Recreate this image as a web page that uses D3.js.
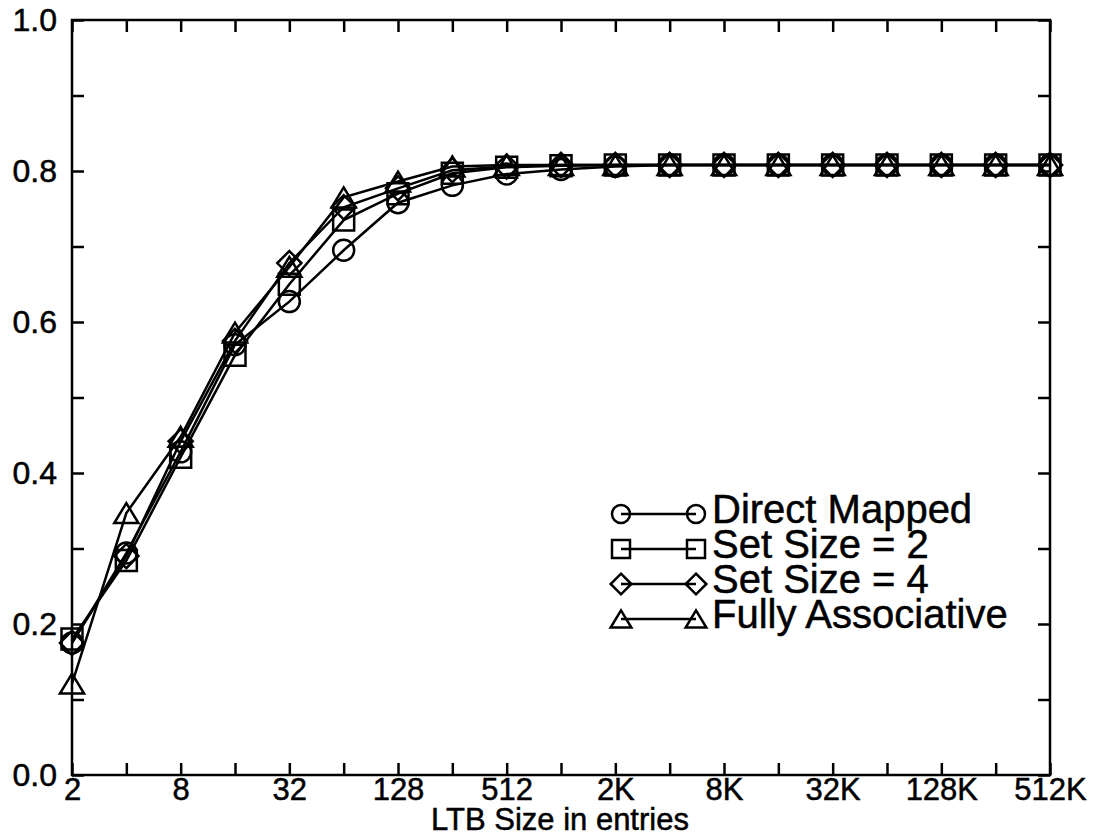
<!DOCTYPE html>
<html>
<head>
<meta charset="utf-8">
<style>
    body { margin: 0; background: #fff; }
    svg { display: block; }
    text { font-family: "Liberation Sans", Arial, Helvetica, sans-serif; fill: #000; stroke: #000; stroke-width: 0.5px; }
    .mark { fill: none; stroke: #000; stroke-width: 2.5px; }
    .series { fill: none; stroke: #000; stroke-width: 2.5px; }
</style>
</head>
<body>
<svg></svg>
<script src="https://d3js.org/d3.v7.min.js"></script>
<script>
    var vWidth = 1107;
    var vHeight = 837;

    // LTB sizes (entries), powers of two from 2 to 512K
    var sizes = [2, 4, 8, 16, 32, 64, 128, 256, 512, 1024, 2048, 4096, 8192, 16384,
                 32768, 65536, 131072, 262144, 524288];
    var sizeLabels = ['2', '4', '8', '16', '32', '64', '128', '256', '512', '1K', '2K', '4K',
                      '8K', '16K', '32K', '64K', '128K', '256K', '512K'];

    var directMapped = [0.175, 0.294, 0.428, 0.570, 0.627, 0.695, 0.758, 0.781, 0.796, 0.802,
                        0.806, 0.808, 0.808, 0.808, 0.808, 0.808, 0.808, 0.808, 0.808];
    var setSize2 = [0.180, 0.284, 0.421, 0.556, 0.650, 0.735, 0.770, 0.797, 0.805, 0.807,
                    0.808, 0.808, 0.808, 0.808, 0.808, 0.808, 0.808, 0.808, 0.808];
    var setSize4 = [0.175, 0.290, 0.442, 0.575, 0.678, 0.752, 0.777, 0.801, 0.806, 0.808,
                    0.808, 0.808, 0.808, 0.808, 0.808, 0.808, 0.808, 0.808, 0.808];
    var fullyAssoc = [0.121, 0.347, 0.448, 0.586, 0.673, 0.765, 0.786, 0.806, 0.808, 0.808,
                      0.808, 0.808, 0.808, 0.808, 0.808, 0.808, 0.808, 0.808, 0.808];

    var yTicks = [0, 0.1, 0.2, 0.3, 0.4, 0.5, 0.6, 0.7, 0.8, 0.9, 1.0];
    var yLabels = ['0.0', '', '0.2', '', '0.4', '', '0.6', '', '0.8', '', '1.0'];

    var seriesNames = ['Direct Mapped', 'Set Size = 2', 'Set Size = 4', 'Fully Associative'];
    var seriesValues = [directMapped, setSize2, setSize4, fullyAssoc];
    var seriesMarks = ['circle', 'square', 'diamond', 'triangle'];

    var svg = d3.select('svg').attr('width', vWidth).attr('height', vHeight);

    var x = d3.scaleLog().base(2).domain([2, 524288]).range([72, 1050]);
    var y = d3.scaleLinear().domain([0, 1]).range([775, 20]);

    // marker paths centred on 0,0
    function markPath(kind, s) {
        if (kind === 'circle') {
            var p = d3.path();
            p.moveTo(s, 0);
            p.arc(0, 0, s, 0, 2 * Math.PI);
            p.closePath();
            return p.toString();
        }
        if (kind === 'square') {
            return 'M' + (-s) + ',' + (-s) + 'H' + s + 'V' + s + 'H' + (-s) + 'Z';
        }
        if (kind === 'diamond') {
            var d = s * 1.15;
            return 'M0,' + (-d) + 'L' + d + ',0L0,' + d + 'L' + (-d) + ',0Z';
        }
        var h = s * 0.95;
        return 'M0,' + (-h) + 'L' + (s * 1.15) + ',' + h + 'L' + (-s * 1.15) + ',' + h + 'Z';
    }

    // frame
    svg.append('rect')
        .attr('x', x(2)).attr('y', y(1))
        .attr('width', x(524288) - x(2)).attr('height', y(0) - y(1))
        .attr('fill', 'none').attr('stroke', '#000').attr('stroke-width', 2.5);

    // x ticks (inward, top and bottom), labels on every other one
    var tickLen = 12;
    var gxb = svg.append('g').attr('transform', 'translate(0,' + y(0) + ')')
        .call(d3.axisBottom(x).tickValues(sizes).tickSize(-tickLen).tickPadding(3)
            .tickFormat(function (d, i) { return i % 2 === 0 ? sizeLabels[i] : ''; }));
    var gxt = svg.append('g').attr('transform', 'translate(0,' + y(1) + ')')
        .call(d3.axisTop(x).tickValues(sizes).tickSize(-tickLen).tickFormat(''));

    // y ticks (inward, left and right)
    var gyl = svg.append('g').attr('transform', 'translate(' + x(2) + ',0)')
        .call(d3.axisLeft(y).tickValues(yTicks).tickSize(-tickLen).tickPadding(15)
            .tickFormat(function (d, i) { return yLabels[i]; }));
    var gyr = svg.append('g').attr('transform', 'translate(' + x(524288) + ',0)')
        .call(d3.axisRight(y).tickValues(yTicks).tickSize(-tickLen).tickFormat(''));

    [gxb, gxt, gyl, gyr].forEach(function (g) {
        g.select('.domain').remove();
        g.selectAll('.tick line').attr('stroke', '#000').attr('stroke-width', 2.5);
    });
    gxb.selectAll('text').attr('font-size', 31).attr('font-family', null).attr('fill', null).attr('dy', '0.72em');
    gyl.selectAll('text').attr('font-size', 32).attr('font-family', null).attr('fill', null);

    // axis title
    svg.append('text')
        .attr('x', 560).attr('y', 830)
        .attr('text-anchor', 'middle')
        .attr('font-size', 31)
        .text('LTB Size in entries');

    // series
    var line = d3.line()
        .x(function (d, i) { return x(sizes[i]); })
        .y(function (d) { return y(d); });

    seriesValues.forEach(function (vals, k) {
        var g = svg.append('g');
        g.append('path').attr('class', 'series').attr('d', line(vals));
        g.selectAll('path.mark').data(vals).enter().append('path')
            .attr('class', 'mark')
            .attr('transform', function (d, i) { return 'translate(' + x(sizes[i]) + ',' + y(d) + ')'; })
            .attr('d', markPath(seriesMarks[k], 10.5));
    });

    // legend
    var legend = svg.append('g').attr('transform', 'translate(621,514)');
    seriesNames.forEach(function (name, k) {
        var row = legend.append('g').attr('transform', 'translate(0,' + (k * 35) + ')');
        row.append('line').attr('x1', 0).attr('x2', 75).attr('y1', 0).attr('y2', 0)
            .attr('stroke', '#000').attr('stroke-width', 2.5);
        [0, 75].forEach(function (px) {
            row.append('path').attr('class', 'mark')
                .attr('transform', 'translate(' + px + ',0)')
                .attr('d', markPath(seriesMarks[k], 9));
        });
        row.append('text').attr('x', 91).attr('y', 9)
            .attr('font-size', 40)
            .text(name);
    });
</script>
</body>
</html>
